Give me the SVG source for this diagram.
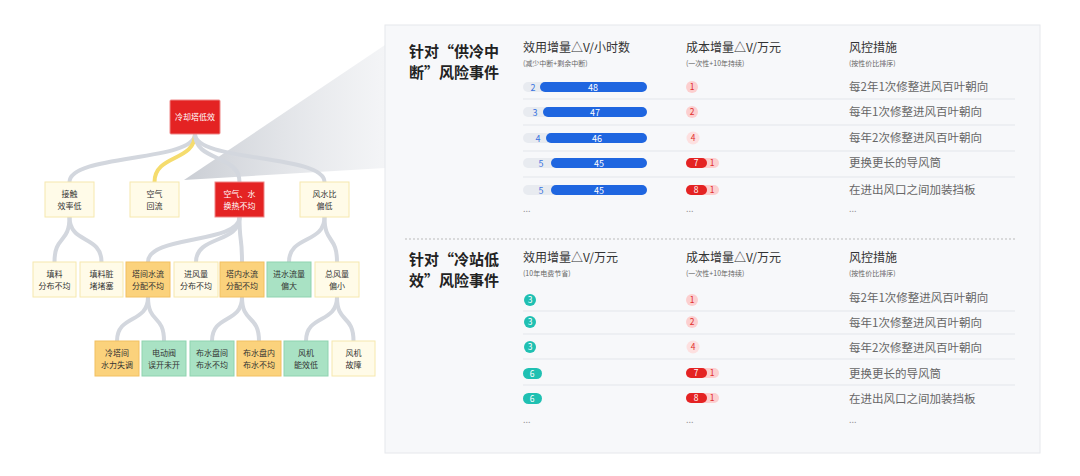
<svg xmlns="http://www.w3.org/2000/svg" width="1080" height="476" viewBox="0 0 1080 476">
<defs>
<linearGradient id="wg" x1="0" y1="0" x2="1" y2="0"><stop offset="0" stop-color="#c4c8cf" stop-opacity="0.9"/><stop offset="1" stop-color="#e8eaee" stop-opacity="0.5"/></linearGradient>
<style>
text{font-family:"Noto Sans CJK SC",sans-serif}
.c{fill:none;stroke:#d3d7de;stroke-width:4;stroke-linecap:round}
.cy{fill:none;stroke:#f5dc6e;stroke-width:4;stroke-linecap:round}
.pale{fill:#fffbe8;stroke:#f6e8ae;stroke-width:1}
.red{fill:#e42323;stroke:#e88;stroke-width:1}
.org{fill:#fbd27c;stroke:#f2c060;stroke-width:1}
.grn{fill:#a9e2c4;stroke:#8fd3b0;stroke-width:1}
.nt{font-size:8px;fill:#333;text-anchor:middle}
.nw{font-size:8px;fill:#fff;text-anchor:middle}
.ttl{font-size:15px;font-weight:bold;fill:#222}
.hd{font-size:12px;fill:#333}
.sub{font-size:7px;fill:#666}
.ms{font-size:11.5px;fill:#666}
.dv{stroke:#e3e6eb;stroke-width:1}
.dot{font-size:9px;fill:#999}
.bl{fill:#1f66e0}
.blt{font-size:9px;fill:#fff;text-anchor:middle}
.bn{font-size:9px;fill:#3a74e0;text-anchor:middle}
.pk{fill:#fccfcf}
.pk2{fill:#fde0e0}
.rd{fill:#e42323}
.rt{font-size:8.5px;fill:#e03030;text-anchor:middle}
.wt{font-size:8.5px;fill:#fff;text-anchor:middle}
.tl{fill:#1fc0b2}
</style>
</defs>
<rect width="1080" height="476" fill="#fff"/>
<polygon points="184,180 385,45 385,168" fill="url(#wg)"/>
<g id="connectors">
<path class="c" d="M195,134 C195,162 69.5,154 69.5,182"/>
<path class="cy" d="M195,134 C195,162 154.5,154 154.5,182"/>
<path class="c" d="M195,134 C195,162 239.5,154 239.5,182"/>
<path class="c" d="M195,134 C195,162 324.5,154 324.5,182"/>
<path class="c" d="M69.5,217 C69.5,244 54.5,235 54.5,262"/>
<path class="c" d="M69.5,217 C69.5,244 101.5,235 101.5,262"/>
<path class="c" d="M239.5,217 C239.5,244 148,235 148,262"/>
<path class="c" d="M239.5,217 C239.5,244 196,235 196,262"/>
<path class="c" d="M239.5,217 C239.5,244 242,235 242,262"/>
<path class="c" d="M324.5,217 C324.5,244 289,235 289,262"/>
<path class="c" d="M324.5,217 C324.5,244 337,235 337,262"/>
<path class="c" d="M148,297 C148,324 117,314 117,341"/>
<path class="c" d="M148,297 C148,324 164,314 164,341"/>
<path class="c" d="M242,297 C242,324 212,314 212,341"/>
<path class="c" d="M242,297 C242,324 259,314 259,341"/>
<path class="c" d="M337,297 C337,324 306,314 306,341"/>
<path class="c" d="M337,297 C337,324 353.5,314 353.5,341"/>
</g>
<g id="n-root"><rect class="red" x="170" y="100" width="50" height="34" rx="1"/><text class="nw" x="195" y="120">冷却塔低效</text></g>
<g id="n-a"><rect class="pale" x="45" y="182" width="49" height="35"/><text class="nt" x="69.5" y="197">接触</text><text class="nt" x="69.5" y="209">效率低</text></g>
<g id="n-b"><rect class="pale" x="130" y="182" width="49" height="35"/><text class="nt" x="154.5" y="197">空气</text><text class="nt" x="154.5" y="209">回流</text></g>
<g id="n-c"><rect class="red" x="215" y="182" width="49" height="35"/><text class="nw" x="239.5" y="197">空气、水</text><text class="nw" x="239.5" y="209">换热不均</text></g>
<g id="n-d"><rect class="pale" x="300" y="182" width="49" height="35"/><text class="nt" x="324.5" y="197">风水比</text><text class="nt" x="324.5" y="209">偏低</text></g>
<g id="n-a1"><rect class="pale" x="33" y="262" width="43" height="35"/><text class="nt" x="54.5" y="277">填料</text><text class="nt" x="54.5" y="289">分布不均</text></g>
<g id="n-a2"><rect class="pale" x="80" y="262" width="43" height="35"/><text class="nt" x="101.5" y="277">填料脏</text><text class="nt" x="101.5" y="289">堵堵塞</text></g>
<g id="n-c1"><rect class="org" x="126" y="262" width="44" height="35"/><text class="nt" x="148" y="277">塔间水流</text><text class="nt" x="148" y="289">分配不均</text></g>
<g id="n-c2"><rect class="pale" x="174" y="262" width="44" height="35"/><text class="nt" x="196" y="277">进风量</text><text class="nt" x="196" y="289">分布不均</text></g>
<g id="n-c3"><rect class="org" x="220" y="262" width="44" height="35"/><text class="nt" x="242" y="277">塔内水流</text><text class="nt" x="242" y="289">分配不均</text></g>
<g id="n-d1"><rect class="grn" x="267" y="262" width="44" height="35"/><text class="nt" x="289" y="277">进水流量</text><text class="nt" x="289" y="289">偏大</text></g>
<g id="n-d2"><rect class="pale" x="315" y="262" width="44" height="35"/><text class="nt" x="337" y="277">总风量</text><text class="nt" x="337" y="289">偏小</text></g>
<g id="n-e1"><rect class="org" x="95" y="341" width="44" height="35"/><text class="nt" x="117" y="356">冷塔间</text><text class="nt" x="117" y="368">水力失调</text></g>
<g id="n-e2"><rect class="grn" x="142" y="341" width="44" height="35"/><text class="nt" x="164" y="356">电动阀</text><text class="nt" x="164" y="368">误开未开</text></g>
<g id="n-e3"><rect class="grn" x="190" y="341" width="44" height="35"/><text class="nt" x="212" y="356">布水盘间</text><text class="nt" x="212" y="368">布水不均</text></g>
<g id="n-e4"><rect class="org" x="237" y="341" width="44" height="35"/><text class="nt" x="259" y="356">布水盘内</text><text class="nt" x="259" y="368">布水不均</text></g>
<g id="n-e5"><rect class="grn" x="284" y="341" width="44" height="35"/><text class="nt" x="306" y="356">风机</text><text class="nt" x="306" y="368">能效低</text></g>
<g id="n-e6"><rect class="pale" x="332" y="341" width="43" height="35"/><text class="nt" x="353.5" y="356">风机</text><text class="nt" x="353.5" y="368">故障</text></g>

<g id="panel">
<rect x="385" y="25" width="655" height="428" fill="#f7f8fa" stroke="#e6e8ec"/>
<line x1="405" y1="239" x2="1015" y2="239" stroke="#bbb" stroke-dasharray="2,2"/>
</g>
<g id="sec1">
<text class="ttl" x="409" y="57">针对“供冷中</text><text class="ttl" x="409" y="78">断”风险事件</text>
<text class="hd" x="523" y="52">效用增量△V/小时数</text><text class="sub" x="523" y="66">(减少中断+剩余中断)</text>
<text class="hd" x="686" y="52">成本增量△V/万元</text><text class="sub" x="686" y="66">(一次性+10年持续)</text>
<text class="hd" x="849" y="52">风控措施</text><text class="sub" x="849" y="66">(按性价比排序)</text>
<line class="dv" x1="523" y1="99" x2="1015" y2="99"/><line class="dv" x1="523" y1="125" x2="1015" y2="125"/><line class="dv" x1="523" y1="151" x2="1015" y2="151"/><line class="dv" x1="523" y1="177" x2="1015" y2="177"/>
<rect x="523" y="82" width="40" height="10" rx="5" fill="#e8ebf0"/><rect class="bl" x="540" y="82" width="107" height="10" rx="5"/><text class="bn" x="533" y="90.5">2</text><text class="blt" x="593" y="90.5">48</text>
<rect x="523" y="107" width="40" height="10" rx="5" fill="#e8ebf0"/><rect class="bl" x="543" y="107" width="104" height="10" rx="5"/><text class="bn" x="535" y="115.5">3</text><text class="blt" x="595" y="115.5">47</text>
<rect x="523" y="133" width="40" height="10" rx="5" fill="#e8ebf0"/><rect class="bl" x="546" y="133" width="101" height="10" rx="5"/><text class="bn" x="538" y="141.5">4</text><text class="blt" x="597" y="141.5">46</text>
<rect x="523" y="158" width="40" height="10" rx="5" fill="#e8ebf0"/><rect class="bl" x="551" y="158" width="96" height="10" rx="5"/><text class="bn" x="541" y="166.5">5</text><text class="blt" x="599" y="166.5">45</text>
<rect x="523" y="185" width="40" height="10" rx="5" fill="#e8ebf0"/><rect class="bl" x="551" y="185" width="96" height="10" rx="5"/><text class="bn" x="541" y="193.5">5</text><text class="blt" x="599" y="193.5">45</text>
<circle class="pk" cx="692" cy="87" r="6"/><text class="rt" x="692" y="90">1</text>
<circle class="pk" cx="692" cy="112" r="6"/><text class="rt" x="692" y="115">2</text>
<circle class="pk2" cx="693" cy="138" r="6.5"/><text class="rt" x="693" y="141">4</text>
<rect class="pk" x="686" y="158" width="33" height="10" rx="5"/><rect class="rd" x="686" y="158" width="21" height="10" rx="5"/><text class="wt" x="696" y="166">7</text><text class="rt" x="712" y="166">1</text>
<rect class="pk" x="686" y="185" width="33" height="10" rx="5"/><rect class="rd" x="686" y="185" width="21" height="10" rx="5"/><text class="wt" x="696" y="193">8</text><text class="rt" x="712" y="193">1</text>
<text class="ms" x="849" y="91">每2年1次修整进风百叶朝向</text>
<text class="ms" x="849" y="116">每年1次修整进风百叶朝向</text>
<text class="ms" x="849" y="142">每年2次修整进风百叶朝向</text>
<text class="ms" x="849" y="167">更换更长的导风筒</text>
<text class="ms" x="849" y="194">在进出风口之间加装挡板</text>
<text class="dot" x="523" y="212">...</text><text class="dot" x="686" y="212">...</text><text class="dot" x="849" y="212">...</text>
</g>
<g id="sec2">
<text class="ttl" x="409" y="265">针对“冷站低</text><text class="ttl" x="409" y="286">效”风险事件</text>
<text class="hd" x="523" y="262">效用增量△V/万元</text><text class="sub" x="523" y="276">(10年电费节省)</text>
<text class="hd" x="686" y="262">成本增量△V/万元</text><text class="sub" x="686" y="276">(一次性+10年持续)</text>
<text class="hd" x="849" y="262">风控措施</text><text class="sub" x="849" y="276">(按性价比排序)</text>
<line class="dv" x1="523" y1="311" x2="1015" y2="311"/><line class="dv" x1="523" y1="334" x2="1015" y2="334"/><line class="dv" x1="523" y1="359" x2="1015" y2="359"/><line class="dv" x1="523" y1="385" x2="1015" y2="385"/>
<circle class="tl" cx="530" cy="300" r="6"/><text class="wt" x="530" y="303">3</text>
<circle class="tl" cx="530" cy="322" r="6"/><text class="wt" x="530" y="325">3</text>
<circle class="tl" cx="530" cy="347" r="6"/><text class="wt" x="530" y="350">3</text>
<rect class="tl" x="523" y="368" width="19" height="11" rx="5.5"/><text class="wt" x="532" y="376.5">6</text>
<rect class="tl" x="523" y="393" width="19" height="11" rx="5.5"/><text class="wt" x="532" y="401.5">6</text>
<circle class="pk" cx="692" cy="300" r="6"/><text class="rt" x="692" y="303">1</text>
<circle class="pk" cx="692" cy="322" r="6"/><text class="rt" x="692" y="325">2</text>
<circle class="pk2" cx="693" cy="347" r="6.5"/><text class="rt" x="693" y="350">4</text>
<rect class="pk" x="686" y="368" width="33" height="10" rx="5"/><rect class="rd" x="686" y="368" width="21" height="10" rx="5"/><text class="wt" x="696" y="376">7</text><text class="rt" x="712" y="376">1</text>
<rect class="pk" x="686" y="393" width="33" height="10" rx="5"/><rect class="rd" x="686" y="393" width="21" height="10" rx="5"/><text class="wt" x="696" y="401">8</text><text class="rt" x="712" y="401">1</text>
<text class="ms" x="849" y="302">每2年1次修整进风百叶朝向</text>
<text class="ms" x="849" y="327">每年1次修整进风百叶朝向</text>
<text class="ms" x="849" y="352">每年2次修整进风百叶朝向</text>
<text class="ms" x="849" y="378">更换更长的导风筒</text>
<text class="ms" x="849" y="403">在进出风口之间加装挡板</text>
<text class="dot" x="523" y="423">...</text><text class="dot" x="686" y="423">...</text><text class="dot" x="849" y="423">...</text>
</g>
</svg>
